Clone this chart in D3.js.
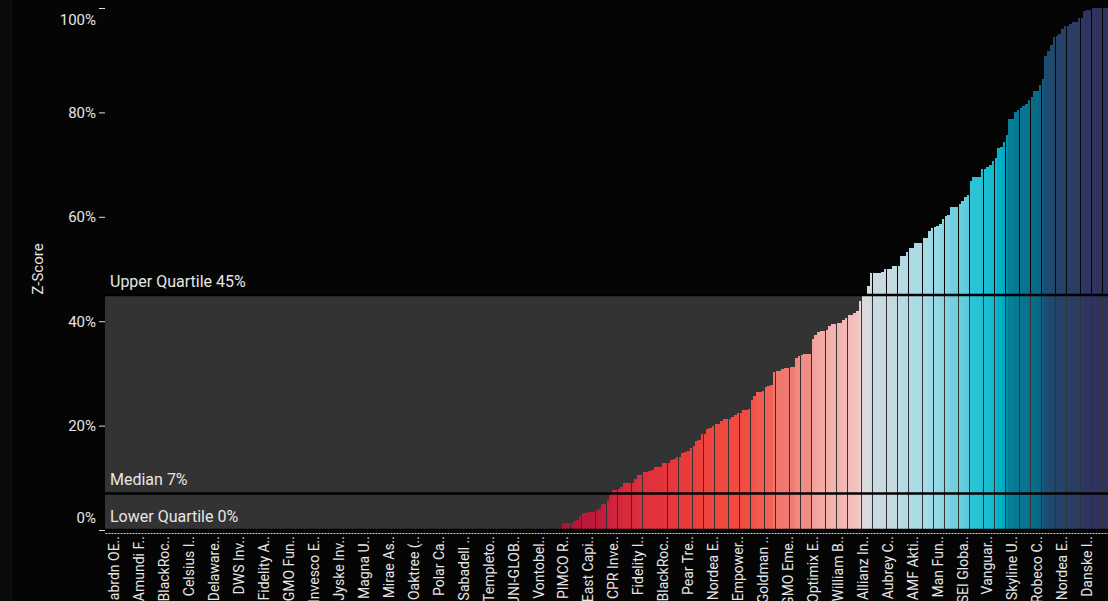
<!DOCTYPE html>
<html>
<head>
<meta charset="utf-8">
<title>z-score ranking</title>
<script type="text/javascript" src="https://cdn.jsdelivr.net/npm/d3@7/dist/d3.min.js"></script>
<style>
  body { margin: 0; background: #050505; overflow: hidden; }
  svg { display: block; font-family: Roboto, sans-serif; }
</style>
</head>
<body>
<script type="text/javascript">
// one value per fund, sorted ascending (percent)
var zScores = [
  0,0,0,0,0,0,0,0,0,0,0,0,0,0,0,0,0,0,0,0,0,0,0,0,0,0,0,0,0,0,
  0,0,0,0,0,0,0,0,0,0,0,0,0,0,0,0,0,0,0,0,0,0,0,0,0,0,0,0,0,0,
  0,0,0,0,0,0,0,0,0,0,0,0,0,0,0,0,0,0,0,0,0,0,0,0,0,0,0,0,0,0,
  0,0,0,0,0,0,0,0,0,0,0,0,0,0,0,0,0,0,0,0,0,0,0,0,0,0,0,0,0,0,
  0,0,0,0,0,0,0,0,0,0,0,0,0,0,0,0,0,0,0,0,0,0,0,0,0,0,0,0,0,0,
  0,0,0,0,0,0,0,0,0,0,0,0,0,0,0,
  1.3,1.3,1.3,1.3,1.7,2.0,2.6,3.3,3.3,3.5,
  3.5,3.5,3.8,4.0,5.0,5.0,5.8,6.9,7.7,7.7,
  7.9,8.3,9.0,9.0,9.0,9.0,9.8,10.6,10.6,11.1,
  11.1,11.3,11.5,12.0,12.0,12.0,12.8,12.9,12.9,13.4,
  13.6,14.0,14.0,14.8,15.0,15.2,15.8,16.0,17.1,17.3,
  18.4,18.4,19.4,19.6,20.0,20.3,20.3,20.8,21.2,21.3,
  21.3,21.7,22.1,22.5,22.5,22.9,22.9,23.2,25.0,25.7,
  26.5,26.5,26.7,27.3,27.5,27.8,30.3,30.5,30.5,30.8,
  31.0,31.1,31.2,31.3,33.0,33.3,33.5,33.7,33.8,33.8,
  36.5,37.4,37.9,38.1,38.1,38.4,39.0,39.5,39.5,39.7,
  39.7,40.3,40.6,41.1,41.1,41.5,41.9,43.8,44.9,44.9,
  46.8,49.3,49.3,49.3,49.3,49.5,50.0,50.0,50.0,50.5,
  50.5,50.5,52.5,52.5,53.2,54.1,54.1,54.9,54.9,54.9,
  56.0,56.0,57.3,57.8,58.0,58.2,58.7,59.5,60.1,60.3,
  61.8,61.8,61.8,62.4,63.0,63.7,64.1,66.8,67.6,67.6,
  67.6,69.1,69.1,69.5,69.9,70.6,71.2,73.1,73.3,74.3,
  75.6,78.7,78.7,80.0,80.4,80.8,81.2,81.6,82.3,82.9,
  84.1,84.1,85.2,86.4,90.8,91.7,92.9,94.4,94.6,95.0,
  96.0,96.5,96.5,96.9,97.3,97.3,98.1,98.1,99.4,99.6,
  99.6,100,100,100,100,100,100
]

// every 9th fund gets a label
var tickLabels = ["abrdn OE..","Amundi F..","BlackRoc..","Celsius I..","Delaware..","DWS Inv..",
  "Fidelity A..","GMO Fun..","Invesco E..","Jyske Inv..","Magna U..","Mirae As..","Oaktree (..",
  "Polar Ca..","Sabadell ..","Templeto..","UNI-GLOB..","Vontobel..","PIMCO R..","East Capi..",
  "CPR Inve..","Fidelity I..","BlackRoc..","Pear Tre..","Nordea E..","Empower..","Goldman ..",
  "GMO Eme..","Optimix E..","William B..","Allianz In..","Aubrey C..","AMF Akti..","Man Fun..",
  "SEI Globa..","Vanguar..","Skyline U..","Robeco C..","Nordea E..","Danske I.."]
var labelEvery = 9
var labelStart = 3

var refNames = ["Upper Quartile", "Median", "Lower Quartile"]
var refValues = [45, 7, 0]

var yTicks = [0, 20, 40, 60, 80, 100]

var colorStops = [1, 5, 10, 15, 20, 25, 28, 31, 34, 38, 42, 44, 46, 50, 54, 57, 60, 64, 67, 71, 74, 76, 80, 84, 87, 91, 95, 98, 100]
var colorRange = ["#b0143a","#c41c3b","#dc2d3c","#ea3b3c","#f0463e","#f25245","#f2655a","#f07a70","#f08f87",
  "#f4a9a4","#f2c4c2","#e8d4d6","#d5dde2","#c6d9e0","#acdbe5","#a3dbe6","#84d3e1","#5bcbdb","#2fc3d6",
  "#0fb9cf","#00adc6","#0a86a0","#067a94","#0b6a88","#135a7c","#1d4d73","#254468","#2b3b64","#30335f"]

var width = 1108, height = 601
var plotLeft = 105, plotRight = 1108, plotTop = 8, plotBottom = 530

var svg = d3.select("body").append("svg")
    .attr("width", width)
    .attr("height", height)

svg.append("rect").attr("width", width).attr("height", height).attr("fill", "#050505")
// little strip on the far left
svg.append("rect").attr("x", 0).attr("y", 0).attr("width", 11).attr("height", height).attr("fill", "#0a0a0a")
svg.append("line").attr("x1", 11.5).attr("x2", 11.5).attr("y1", 0).attr("y2", height).attr("stroke", "#141414")

var x = d3.scaleBand()
    .domain(d3.range(zScores.length))
    .range([plotLeft, plotRight])
    .paddingInner(0.08)
    .paddingOuter(0)

var y = d3.scaleLinear().domain([0, 100]).range([plotBottom, plotTop])

var color = d3.scaleLinear().domain(colorStops).range(colorRange).clamp(true)

// interquartile band
svg.append("rect")
    .attr("x", plotLeft)
    .attr("y", y(refValues[0]))
    .attr("width", plotRight - plotLeft)
    .attr("height", y(refValues[2]) - y(refValues[0]))
    .attr("fill", "#333333")

svg.append("g").selectAll("rect")
    .data(zScores)
    .enter()
    .append("rect")
    .attr("x", function(d, i) { return x(i) })
    .attr("width", x.bandwidth())
    .attr("y", function(d) { return y(d) })
    .attr("height", function(d) { return plotBottom - y(d) })
    .attr("fill", function(d) { return color(d) })
    .attr("shape-rendering", "crispEdges")

// reference lines
refValues.forEach(function(v, i) {
    svg.append("line")
        .attr("x1", plotLeft).attr("x2", plotRight)
        .attr("y1", y(v)).attr("y2", y(v))
        .attr("stroke", "#000")
        .attr("stroke-width", 2.5)
    svg.append("text")
        .attr("x", plotLeft + 5)
        .attr("y", y(v) - 8)
        .attr("fill", "#e6e6e6")
        .style("font-size", "16px")
        .text(refNames[i] + " " + v + "%")
})

// y axis
var gy = svg.append("g")
    .attr("transform", "translate(" + plotLeft + ",0)")
    .call(d3.axisLeft(y).tickValues(yTicks).tickSize(6).tickPadding(3).tickFormat(function(d) { return d + "%" }))
gy.select(".domain").remove()
gy.selectAll(".tick line").attr("stroke", "#dddddd")
gy.selectAll(".tick text")
    .attr("fill", "#e6e6e6")
    .style("font-size", "15px")
    .style("font-family", "Roboto, sans-serif")
    .attr("dy", function(d) { return d == 100 ? "1.12em" : d == 0 ? "-0.48em" : "0.32em" })

svg.append("text")
    .attr("transform", "translate(38," + ((plotTop + plotBottom) / 2) + ") rotate(-90)")
    .attr("text-anchor", "middle")
    .attr("dy", "0.35em")
    .attr("fill", "#e6e6e6")
    .style("font-size", "15px")
    .text("Z-Score")

// x axis
var labelIdx = tickLabels.map(function(t, i) { return labelStart + i * labelEvery })
var gx = svg.append("g")
    .attr("transform", "translate(0," + (plotBottom + 3) + ")")
    .call(d3.axisBottom(x).tickValues(labelIdx).tickSize(0).tickSizeOuter(0)
        .tickFormat(function(d, i) { return tickLabels[i] }))
gx.select(".domain")
    .attr("stroke", "#d0d0d0")
    .attr("stroke-dasharray", "2,1")
gx.selectAll(".tick text")
    .attr("transform", "rotate(-90)")
    .attr("text-anchor", "end")
    .attr("x", -3)
    .attr("y", 0)
    .attr("dy", "0.35em")
    .attr("fill", "#e6e6e6")
    .style("font-size", "14px")
    .style("font-family", "Roboto, sans-serif")
</script>
</body>
</html>
